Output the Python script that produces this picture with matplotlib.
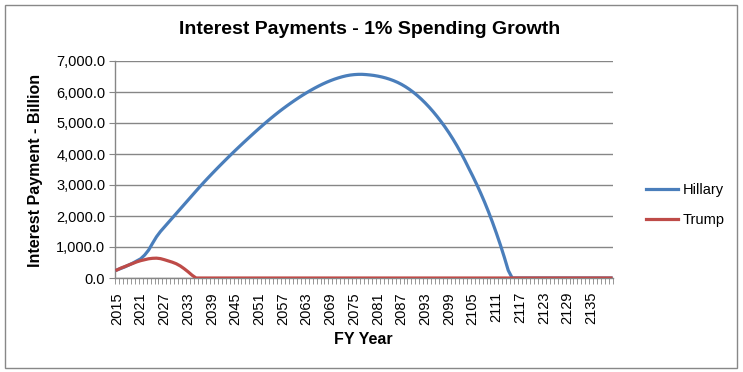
import matplotlib
matplotlib.use("Agg")
import matplotlib.pyplot as plt
from matplotlib.patches import Rectangle
from matplotlib.ticker import FuncFormatter, FixedLocator
from matplotlib import font_manager

years = list(range(2015, 2141))

hillary = [
    260, 310, 360, 420, 480, 550, 620, 740, 900, 1120,           # 2015-2024
    1330, 1500, 1645, 1790, 1935, 2080, 2225, 2370, 2515, 2660,  # 2025-2034
    2805, 2948, 3088, 3224, 3358, 3490, 3620, 3748, 3875, 4000,  # 2035-2044
    4123, 4244, 4364, 4482, 4599, 4715, 4829, 4941, 5051, 5158,  # 2045-2054
    5262, 5363, 5460, 5554, 5645, 5733, 5818, 5900, 5978, 6053,  # 2055-2064
    6124, 6191, 6254, 6312, 6365, 6413, 6455, 6492, 6523, 6546,  # 2065-2074
    6561, 6569, 6570, 6562, 6550, 6534, 6512, 6485, 6452, 6412,  # 2075-2084
    6365, 6310, 6245, 6170, 6085, 5990, 5885, 5770, 5645, 5510,  # 2085-2094
    5365, 5210, 5045, 4870, 4683, 4483, 4270, 4043, 3801, 3543,  # 2095-2104
    3290, 3025, 2745, 2450, 2135, 1800, 1445, 1070, 670, 245,    # 2105-2114
    0, 0, 0, 0, 0, 0, 0, 0, 0, 0,                                # 2115-2124
    0, 0, 0, 0, 0, 0, 0, 0, 0, 0,                                # 2125-2134
    0, 0, 0, 0, 0, 0,                                            # 2135-2140
]

trump = [
    260, 320, 370, 420, 470, 520, 560, 590, 620, 635,            # 2015-2024
    640, 625, 590, 550, 510, 460, 390, 300, 200, 90,             # 2025-2034
] + [0] * 106                                                    # 2035-2140

series_names = ["Hillary", "Trump"]
series_colors = ["#4A7EBB", "#BE4B48"]
title = "Interest Payments - 1% Spending Growth"
xlabel = "FY Year"
ylabel = "Interest Payment - Billion"
yticks = [0, 1000, 2000, 3000, 4000, 5000, 6000, 7000]

names = {f.name for f in font_manager.fontManager.ttflist}
narrow = "Liberation Sans Narrow" if "Liberation Sans Narrow" in names else "Liberation Sans"
base = "Liberation Sans"

W, H = 743, 372
fig = plt.figure(figsize=(W / 100, H / 100), dpi=100)
fig.patch.set_facecolor("white")

# outer chart border
fig.patches.append(Rectangle((4.5 / W, 1 - 368 / H), 732.5 / W, 363 / H,
                             transform=fig.transFigure, fill=False,
                             edgecolor="#888888", linewidth=1.0))

left, right, top, bottom = 115, 613, 61, 278
ax = fig.add_axes([left / W, 1 - bottom / H, (right - left) / W, (bottom - top) / H])

x = list(range(len(years)))
ax.plot(x, hillary, color=series_colors[0], linewidth=2.3, label=series_names[0],
        solid_joinstyle="round", zorder=3)
ax.plot(x, trump, color=series_colors[1], linewidth=2.3, label=series_names[1],
        solid_joinstyle="round", zorder=4)

ax.set_xlim(-0.5, len(years) - 0.5)
ax.set_ylim(0, 7000)

ax.set_yticks(yticks)
ax.yaxis.set_major_formatter(FuncFormatter(lambda v, p: f"{v:,.1f}"))
ax.yaxis.grid(True, color="#868686", linewidth=1.0)
ax.set_axisbelow(True)

label_pos = [i for i, y in enumerate(years) if (y - 2015) % 6 == 0]
ax.set_xticks(label_pos)
ax.set_xticklabels([str(years[i]) for i in label_pos], rotation=90)
ax.tick_params(axis="x", which="major", length=0, pad=10)
ax.xaxis.set_minor_locator(FixedLocator([i - 0.5 for i in range(len(years) + 1)]))
ax.tick_params(axis="x", which="minor", length=4, color="#868686", direction="out")
ax.tick_params(axis="y", which="major", length=4, color="#868686", direction="out", pad=3)

for lbl in ax.get_xticklabels() + ax.get_yticklabels():
    lbl.set_fontfamily(base)
    lbl.set_fontsize(10.5)

for s in ["top", "right"]:
    ax.spines[s].set_visible(False)
for s in ["left", "bottom"]:
    ax.spines[s].set_color("#868686")
    ax.spines[s].set_linewidth(1.0)

fig.text(370 / W, 1 - 30 / H, title, ha="center", va="center",
         fontsize=14, fontweight="bold", family=narrow)
fig.text(363 / W, 1 - 339 / H, xlabel, ha="center", va="center",
         fontsize=11.5, fontweight="bold", family=base)
fig.text(36 / W, 1 - 170 / H, ylabel, ha="center", va="center", rotation=90,
         fontsize=11.5, fontweight="bold", family=base)

leg = ax.legend(loc="center left", bbox_to_anchor=(633 / W, 1 - 205 / H),
                bbox_transform=fig.transFigure, frameon=False,
                prop={"family": base, "size": 10.5}, handlelength=2.2,
                handletextpad=0.3, labelspacing=1.1)

fig.savefig("out.png", dpi=100)
